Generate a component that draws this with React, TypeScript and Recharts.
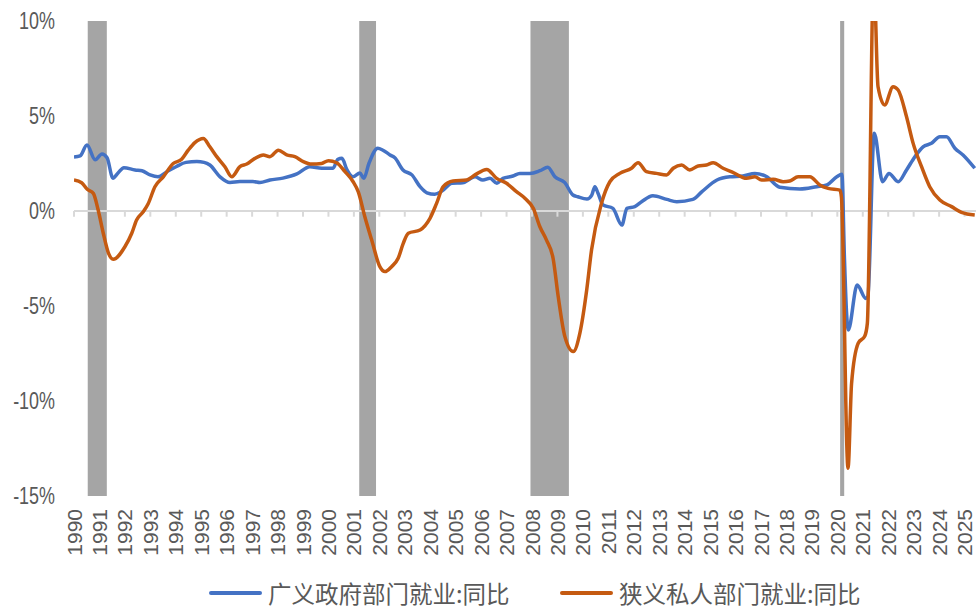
import { LineChart, Line, XAxis, YAxis, ReferenceArea, ReferenceLine, Legend } from 'recharts';

const yearTicks = [
  1990, 1991, 1992, 1993, 1994, 1995, 1996, 1997, 1998, 1999, 2000, 2001,
  2002, 2003, 2004, 2005, 2006, 2007, 2008, 2009, 2010, 2011, 2012, 2013,
  2014, 2015, 2016, 2017, 2018, 2019, 2020, 2021, 2022, 2023, 2024, 2025,
];
const pctTicks = [-15, -10, -5, 0, 5, 10];

// NBER recessions (start, end as decimal years)
const recessionStart = [1990.54, 2001.21, 2007.94, 2020.11];
const recessionEnd = [1991.29, 2001.87, 2009.45, 2020.27];

// 广义政府部门就业:同比 (%)
const govDates = [
  1990.0, 1990.24, 1990.51, 1990.83, 1991.1, 1991.3, 1991.53, 1991.73, 1991.96, 1992.4,
  1992.67, 1992.99, 1993.3, 1993.65, 1994.01, 1994.4, 1994.83, 1995.11, 1995.34, 1995.74,
  1996.13, 1996.52, 1997.03, 1997.31, 1997.7, 1998.21, 1998.76, 1999.27, 1999.74, 2000.18,
  2000.37, 2000.53, 2000.73, 2000.96, 2001.24, 2001.39, 2001.59, 2001.94, 2002.14, 2002.42,
  2002.61, 2002.93, 2003.28, 2003.6, 2003.87, 2004.18, 2004.46, 2004.85, 2005.28, 2005.76,
  2006.07, 2006.35, 2006.62, 2006.86, 2007.25, 2007.52, 2007.92, 2008.31, 2008.62, 2008.9,
  2009.29, 2009.61, 2009.8, 2010.16, 2010.35, 2010.47, 2010.59, 2010.79, 2011.18, 2011.53,
  2011.73, 2012.04, 2012.32, 2012.75, 2013.3, 2013.69, 2014.32, 2014.68, 2015.27, 2015.78,
  2016.29, 2016.76, 2017.23, 2017.74, 2018.53, 2019.19, 2019.59, 2019.98, 2020.18, 2020.28,
  2020.36, 2020.43, 2020.78, 2021.12, 2021.2, 2021.45, 2021.78, 2022.03, 2022.39, 2022.72,
  2023.05, 2023.37, 2023.7, 2024.03, 2024.29, 2024.62, 2024.94, 2025.4,
];
const govValues = [
  2.84, 2.9, 3.47, 2.7, 3.0, 2.8, 1.73, 2.0, 2.28, 2.16,
  2.12, 1.9, 1.8, 2.07, 2.33, 2.56, 2.6, 2.56, 2.42, 1.8,
  1.5, 1.55, 1.55, 1.5, 1.63, 1.73, 1.95, 2.33, 2.25, 2.25,
  2.72, 2.77, 2.16, 1.8, 2.0, 1.72, 2.5, 3.3, 3.2, 2.95,
  2.8, 2.16, 1.9, 1.28, 0.96, 0.88, 1.05, 1.46, 1.49, 1.8,
  1.63, 1.72, 1.46, 1.72, 1.84, 1.98, 1.98, 2.12, 2.3, 1.8,
  1.49, 0.84, 0.75, 0.63, 0.84, 1.28, 0.95, 0.32, 0.14, -0.74,
  0.14, 0.23, 0.5, 0.8, 0.61, 0.49, 0.61, 1.02, 1.63, 1.8,
  1.84, 1.98, 1.8, 1.25, 1.16, 1.28, 1.37, 1.8, 1.93, -2.5,
  -5.3, -6.26, -3.9, -4.6, -4.5, 4.09, 1.54, 1.98, 1.54, 2.16,
  2.86, 3.38, 3.56, 3.91, 3.91, 3.3, 2.95, 2.25,
];

// 狭义私人部门就业:同比 (%)
const privDates = [
  1990.0, 1990.3, 1990.52, 1990.76, 1990.95, 1991.15, 1991.35, 1991.54, 1992.0, 1992.27,
  1992.46, 1992.72, 1992.92, 1993.18, 1993.51, 1993.9, 1994.23, 1994.49, 1994.75, 1995.08,
  1995.34, 1995.61, 1995.93, 1996.2, 1996.52, 1996.79, 1997.11, 1997.44, 1997.7, 1998.03,
  1998.36, 1998.68, 1999.01, 1999.34, 1999.73, 2000.0, 2000.32, 2000.65, 2000.97, 2001.17,
  2001.43, 2001.7, 2002.02, 2002.22, 2002.48, 2002.74, 2002.94, 2003.14, 2003.6, 2003.99,
  2004.25, 2004.51, 2004.9, 2005.43, 2005.76, 2006.22, 2006.61, 2007.0, 2007.39, 2007.72,
  2008.05, 2008.31, 2008.57, 2008.83, 2009.03, 2009.29, 2009.62, 2009.88, 2010.15, 2010.34,
  2010.73, 2011.06, 2011.45, 2011.91, 2012.17, 2012.5, 2012.89, 2013.29, 2013.55, 2013.88,
  2014.2, 2014.53, 2014.86, 2015.12, 2015.51, 2015.91, 2016.43, 2016.76, 2017.02, 2017.48,
  2017.87, 2018.13, 2018.46, 2018.92, 2019.31, 2019.64, 2020.1, 2020.16, 2020.42, 2020.56,
  2020.82, 2021.08, 2021.18, 2021.43, 2021.6, 2021.86, 2022.19, 2022.39, 2022.72, 2022.98,
  2023.31, 2023.63, 2024.03, 2024.49, 2024.88, 2025.4,
];
const privValues = [
  1.63, 1.49, 1.14, 0.93, 0.05, -1.17, -2.2, -2.54, -1.88, -1.17,
  -0.47, -0.04, 0.4, 1.28, 1.8, 2.5, 2.72, 3.2, 3.6, 3.82,
  3.38, 2.86, 2.33, 1.8, 2.33, 2.47, 2.77, 2.95, 2.86, 3.2,
  2.95, 2.86, 2.6, 2.47, 2.5, 2.65, 2.54, 2.07, 1.54, 1.02,
  -0.3, -1.53, -2.93, -3.19, -2.93, -2.49, -1.7, -1.17, -1.0, -0.39,
  0.4, 1.28, 1.58, 1.63, 1.9, 2.19, 1.72, 1.46, 1.02, 0.67,
  0.14, -0.83, -1.53, -2.5, -4.5, -6.6, -7.4, -6.44, -4.16, -2.05,
  0.4, 1.54, 1.98, 2.25, 2.54, 2.07, 1.98, 1.9, 2.25, 2.42,
  2.16, 2.37, 2.42, 2.54, 2.25, 2.02, 1.72, 1.8, 1.63, 1.67,
  1.54, 1.58, 1.8, 1.8, 1.37, 1.19, 1.1, 0.75, -13.54, -9.07,
  -6.96, -6.58, -5.91, 12.5, 6.54, 5.58, 6.54, 6.37, 4.96, 3.56,
  2.33, 1.28, 0.58, 0.23, -0.07, -0.21,
];

const govName = '广义政府部门就业:同比';
const privName = '狭义私人部门就业:同比';

const govData = govDates.map((x, i) => ({ x, v: govValues[i] }));
const privData = privDates.map((x, i) => ({ x, v: privValues[i] }));

const textColor = '#595959';

function YearTick({ x, y, payload }: any) {
  return (
    <g transform={`translate(${x},${y})`}>
      <text
        transform="rotate(-90)"
        textAnchor="end"
        dy="0.36em"
        fill={textColor}
        fontSize={21}
        fontFamily="'Liberation Sans', Arial, sans-serif"
      >
        {payload.value}
      </text>
    </g>
  );
}

// narrow-looking percent labels, like the source
function PctTick({ x, y, payload }: any) {
  return (
    <g transform={`translate(${x},${y}) scale(0.78,1)`}>
      <text
        textAnchor="end"
        dy="0.36em"
        fill={textColor}
        fontSize={23}
        fontFamily="'Liberation Sans', Arial, sans-serif"
      >
        {`${payload.value}%`}
      </text>
    </g>
  );
}

function LegendBox() {
  const item = (left: number, color: string, label: string) => (
    <div style={{ position: 'absolute', left, top: 10, height: 34, display: 'flex', alignItems: 'center' }}>
      <div style={{ width: 53, height: 4, background: color, borderRadius: 2, marginRight: 6 }} />
      <span
        style={{
          display: 'block',
          height: 34,
          fontSize: 23.5,
          lineHeight: '34px',
          whiteSpace: 'nowrap',
          color: textColor,
          fontFamily: "'Noto Sans CJK SC', sans-serif",
        }}
      >
        {label}
      </span>
    </div>
  );
  return (
    <div style={{ position: 'relative', width: 976, height: 44 }}>
      {item(209, '#4472C4', govName)}
      {item(560, '#C55A11', privName)}
    </div>
  );
}

export default function App() {
  return (
    <div style={{ position: 'absolute', left: 0, top: 0, width: 976, height: 610, background: '#fff' }}>
      <LineChart width={976} height={610} margin={{ top: 21, right: 0, bottom: 0, left: 0 }}>
        <XAxis
          type="number"
          dataKey="x"
          domain={[1990, 2025.45]}
          ticks={yearTicks}
          allowDataOverflow
          axisLine={false}
          tickLine={false}
          tickSize={0}
          tickMargin={13}
          height={70}
          interval={0}
          tick={<YearTick />}
        />
        <YAxis
          type="number"
          domain={[-15, 10]}
          ticks={pctTicks}
          allowDataOverflow
          width={74}
          axisLine={false}
          tickLine={false}
          tickSize={0}
          tickMargin={19}
          tick={<PctTick />}
        />
        {recessionStart.map((s, i) => (
          <ReferenceArea key={`rec-${i}`} x1={s} x2={recessionEnd[i]} fill="#A5A5A5" fillOpacity={1} stroke="none" />
        ))}
        <ReferenceLine y={0} stroke="#D9D9D9" strokeWidth={2} />
        {yearTicks.map((yr) => (
          <ReferenceLine
            key={`tk-${yr}`}
            segment={[{ x: yr, y: 0 }, { x: yr, y: -0.3 }]}
            stroke="#D9D9D9"
            strokeWidth={2}
          />
        ))}
        <Line
          data={govData}
          dataKey="v"
          name={govName}
          type="monotone"
          stroke="#4472C4"
          strokeWidth={3.5}
          dot={false}
          activeDot={false}
          isAnimationActive={false}
        />
        <Line
          data={privData}
          dataKey="v"
          name={privName}
          type="monotone"
          stroke="#C55A11"
          strokeWidth={3.5}
          dot={false}
          activeDot={false}
          isAnimationActive={false}
        />
        <Legend verticalAlign="bottom" height={44} wrapperStyle={{ left: 0, width: 976, bottom: 0 }} content={<LegendBox />} />
      </LineChart>
    </div>
  );
}
